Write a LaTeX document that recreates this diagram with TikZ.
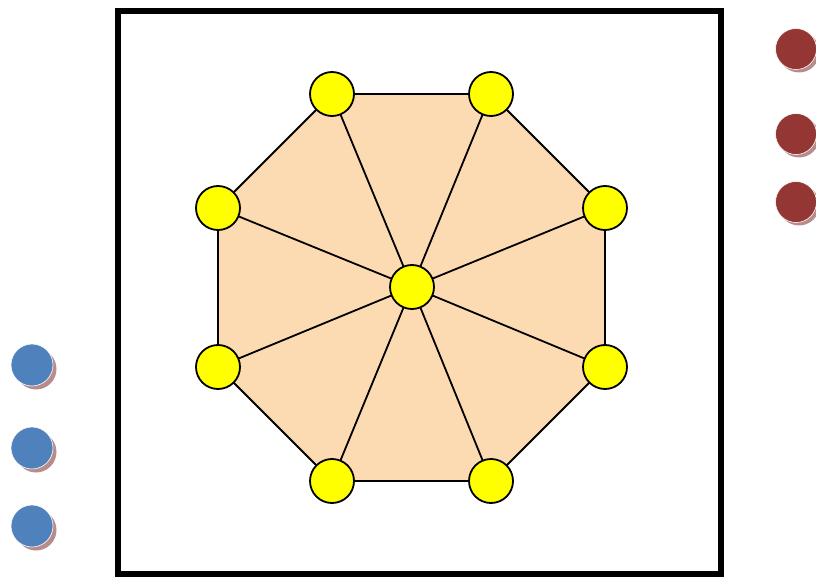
\documentclass[tikz,border=0pt]{standalone}
\usepackage{tikz}
\usetikzlibrary{backgrounds}

\definecolor{peach}{RGB}{252,219,179}
\definecolor{dotred}{RGB}{148,54,52}
\definecolor{dotblue}{RGB}{79,129,189}
\definecolor{dotshadow}{RGB}{185,140,140}
\definecolor{hubyellow}{RGB}{255,255,0}

\begin{document}
\begin{tikzpicture}[
    x=1pt, y=-1pt,
    vertex/.style={
      circle, draw=black, line width=1.8pt, fill=hubyellow,
      minimum size=44pt, inner sep=0pt
    },
    spoke/.style={draw=black, line width=1.8pt},
    rim/.style={draw=black, line width=1.8pt},
    reddot/.style={
      circle, draw=white, line width=0.6pt, fill=dotred,
      minimum size=41pt, inner sep=0pt
    },
    bluedot/.style={
      circle, draw=white, line width=0.6pt, fill=dotblue,
      minimum size=42pt, inner sep=0pt
    },
    dotshade/.style={
      circle, fill=dotshadow, minimum size=41pt, inner sep=0pt
    }
  ]
  \useasboundingbox (0,0) rectangle (816,577);

  % Frame
  \draw[line width=5.5pt] (118,11) rectangle (721,574);

  % Octagon corners and hub
  \node[vertex] (hub) at (412,287) {};
  \node[vertex] (v1) at (332,94)  {};
  \node[vertex] (v2) at (491,94)  {};
  \node[vertex] (v3) at (605,208) {};
  \node[vertex] (v4) at (605,367) {};
  \node[vertex] (v5) at (491,481) {};
  \node[vertex] (v6) at (332,481) {};
  \node[vertex] (v7) at (218,367) {};
  \node[vertex] (v8) at (218,208) {};

  % Filled octagon, spokes and rim behind the nodes
  \begin{scope}[on background layer]
    \fill[peach] (v1.center) -- (v2.center) -- (v3.center) -- (v4.center)
      -- (v5.center) -- (v6.center) -- (v7.center) -- (v8.center) -- cycle;
    \draw[rim] (v1.center) -- (v2.center) -- (v3.center) -- (v4.center)
      -- (v5.center) -- (v6.center) -- (v7.center) -- (v8.center) -- cycle;
    \draw[spoke] (hub.center) -- (v1.center);
    \draw[spoke] (hub.center) -- (v2.center);
    \draw[spoke] (hub.center) -- (v3.center);
    \draw[spoke] (hub.center) -- (v4.center);
    \draw[spoke] (hub.center) -- (v5.center);
    \draw[spoke] (hub.center) -- (v6.center);
    \draw[spoke] (hub.center) -- (v7.center);
    \draw[spoke] (hub.center) -- (v8.center);
  \end{scope}

  % Red dots (right)
  \node[dotshade] (rs1) at (799,52)  {};
  \node[dotshade] (rs2) at (799,137) {};
  \node[dotshade] (rs3) at (799,205) {};
  \node[reddot] (r1) at (796,49)  {};
  \node[reddot] (r2) at (796,134) {};
  \node[reddot] (r3) at (796,202) {};

  % Blue dots (left)
  \node[dotshade] (bs1) at (36,369) {};
  \node[dotshade] (bs2) at (36,452) {};
  \node[dotshade] (bs3) at (36,530) {};
  \node[bluedot] (b1) at (32,365) {};
  \node[bluedot] (b2) at (32,448) {};
  \node[bluedot] (b3) at (32,526) {};

\end{tikzpicture}
\end{document}
